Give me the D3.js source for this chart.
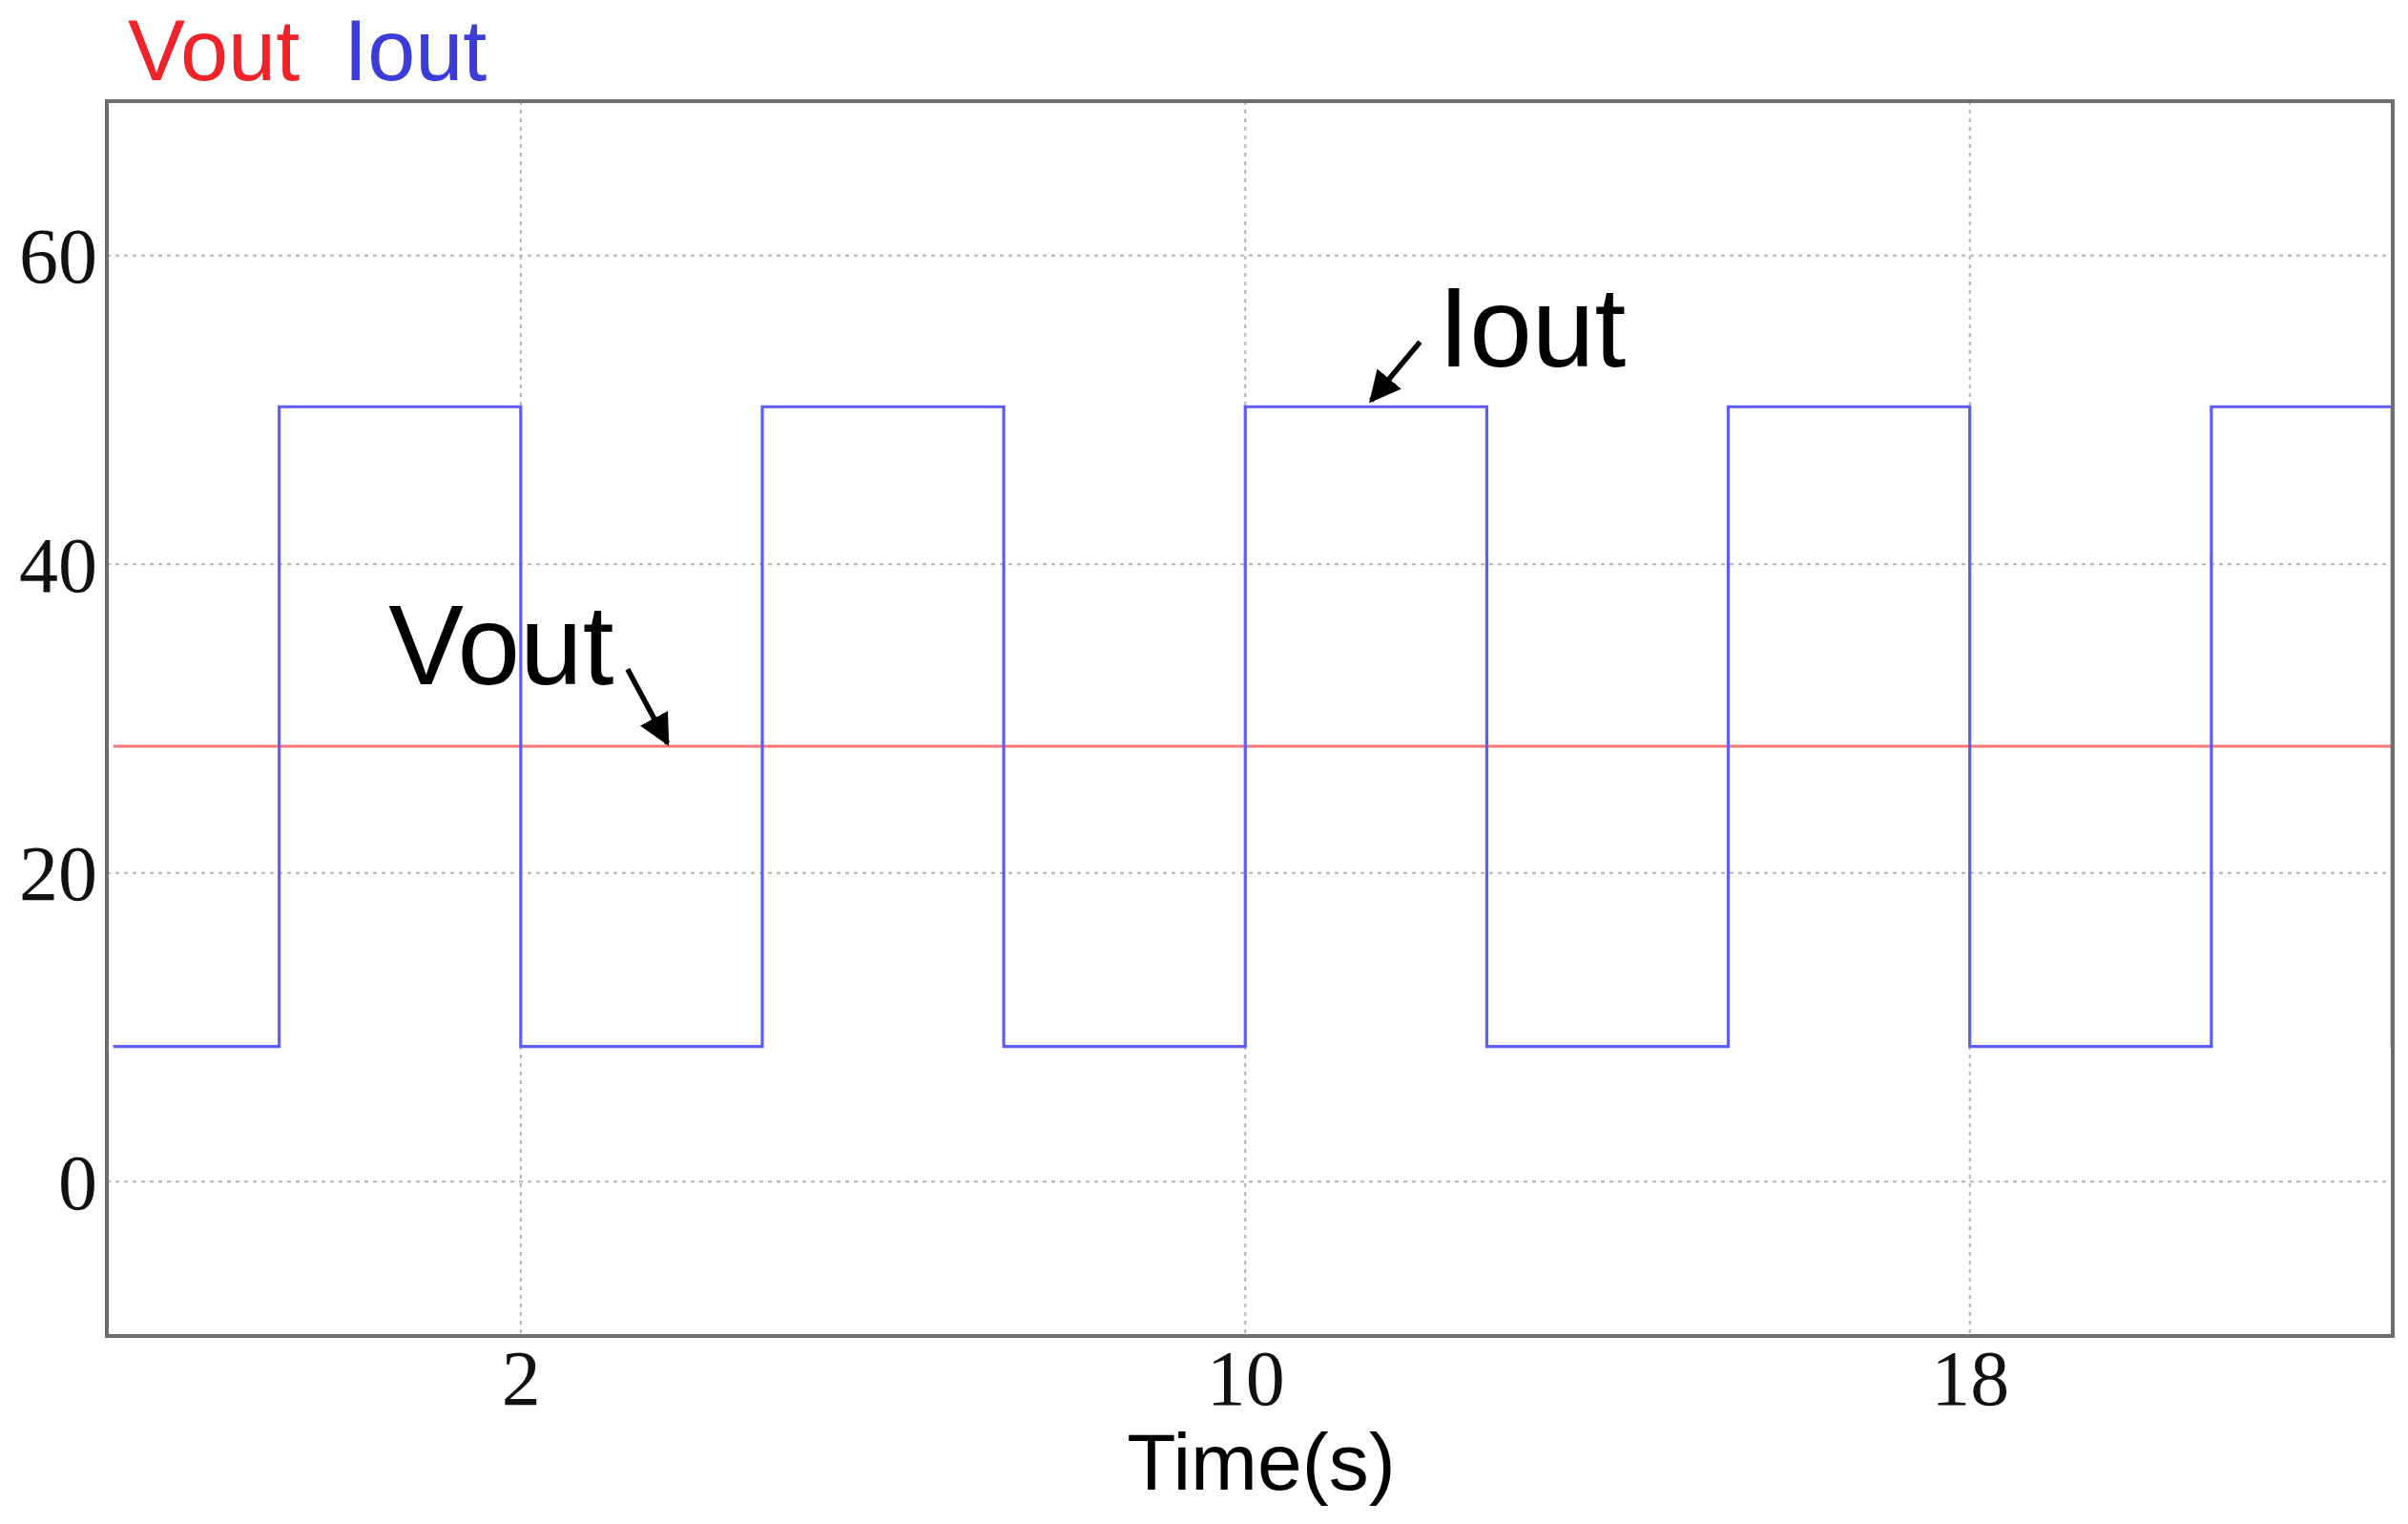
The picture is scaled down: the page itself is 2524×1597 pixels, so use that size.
<!DOCTYPE html>
<html>
<head>
<meta charset="utf-8">
<script src="https://cdn.jsdelivr.net/npm/d3@7"></script>
<style>
  body { margin: 0; background: #fff; }
  svg { display: block; }
  .grid line { stroke: #b4b4b4; stroke-width: 2; stroke-dasharray: 4,5; }
  .tick-label { font-family: 'Liberation Serif', 'Times New Roman', serif; font-size: 82px; fill: #111; }
  .sans { font-family: 'Liberation Sans', Arial, sans-serif; }
</style>
</head>
<body>
<svg id="chart"></svg>
<script>
(function () {

  // x / y ticks
  const xTicks = [2, 10, 18]
  const yTicks = [0, 20, 40, 60]

  // Iout: square wave, value held until the next time (step after)
  const ioutTime = [-2.5, -0.667, 2, 4.667, 7.333, 10, 12.667, 15.333, 18, 20.667, 22.662, 22.67]
  const ioutValue = [8.75, 50.2, 8.75, 50.2, 8.75, 50.2, 8.75, 50.2, 8.75, 50.2, 8.75, 8.75]

  // Vout: flat
  const voutTime = [-2.5, 22.67]
  const voutValue = [28.2, 28.2]

  const seriesNames = ['Vout', 'Iout']
  const seriesColors = ['#ff7676', '#5c5cff']
  const legendColors = ['#f0232b', '#3c3cd8']

  const width = 2524
  const height = 1597
  const margin = {top: 106, right: 16, bottom: 197, left: 112}

  const x = d3.scaleLinear().domain([-2.57, 22.67]).range([margin.left, width - margin.right])
  const y = d3.scaleLinear().domain([-10, 70]).range([height - margin.bottom, margin.top])

  const svg = d3.select('#chart')
    .attr('width', width)
    .attr('height', height)

  const defs = svg.append('defs')
  defs.append('marker')
    .attr('id', 'arrow')
    .attr('viewBox', '0 0 10 10')
    .attr('refX', 9)
    .attr('refY', 5)
    .attr('markerWidth', 6)
    .attr('markerHeight', 6)
    .attr('markerUnits', 'strokeWidth')
    .attr('orient', 'auto')
    .append('path')
    .attr('d', 'M0,0 L10,5 L0,10 z')
    .attr('fill', '#000')

  // grid
  const grid = svg.append('g').attr('class', 'grid')
  grid.selectAll('.hgrid')
    .data(yTicks)
    .enter()
    .append('line')
    .attr('x1', margin.left)
    .attr('x2', width - margin.right)
    .attr('y1', d => y(d))
    .attr('y2', d => y(d))
  grid.selectAll('.vgrid')
    .data(xTicks)
    .enter()
    .append('line')
    .attr('x1', d => x(d))
    .attr('x2', d => x(d))
    .attr('y1', margin.top)
    .attr('y2', height - margin.bottom)

  // axes (labels only, frame drawn below)
  const xAxis = svg.append('g')
    .attr('transform', `translate(0,${height - margin.bottom})`)
    .call(d3.axisBottom(x).tickValues(xTicks).tickSize(0).tickPadding(72).tickFormat(d3.format('d')))
  xAxis.select('.domain').remove()
  xAxis.selectAll('text').attr('class', 'tick-label').attr('fill', null).attr('dy', null)

  const yAxis = svg.append('g')
    .attr('transform', `translate(${margin.left},0)`)
    .call(d3.axisLeft(y).tickValues(yTicks).tickSize(0).tickPadding(10).tickFormat(d3.format('d')))
  yAxis.select('.domain').remove()
  yAxis.selectAll('text').attr('class', 'tick-label').attr('fill', null).attr('dy', '0.34em')

  // series
  const line = d3.line()
    .x(d => x(d[0]))
    .y(d => y(d[1]))

  svg.append('path')
    .datum(voutTime.map((t, i) => [t, voutValue[i]]))
    .attr('d', line)
    .attr('fill', 'none')
    .attr('stroke', seriesColors[0])
    .attr('stroke-width', 3)

  svg.append('path')
    .datum(ioutTime.map((t, i) => [t, ioutValue[i]]))
    .attr('d', line.curve(d3.curveStepAfter))
    .attr('fill', 'none')
    .attr('stroke', seriesColors[1])
    .attr('stroke-width', 3.2)

  // frame
  svg.append('rect')
    .attr('x', margin.left)
    .attr('y', margin.top)
    .attr('width', width - margin.left - margin.right)
    .attr('height', height - margin.top - margin.bottom)
    .attr('fill', 'none')
    .attr('stroke', '#6e6e6e')
    .attr('stroke-width', 4)

  // x title
  svg.append('text')
    .attr('class', 'sans')
    .attr('x', (margin.left + width - margin.right) / 2 + 12)
    .attr('y', 1561)
    .attr('text-anchor', 'middle')
    .attr('font-size', 84)
    .attr('fill', '#000')
    .text('Time(s)')

  // legend on top
  const legend = svg.append('text')
    .attr('class', 'sans')
    .attr('x', 134)
    .attr('y', 84)
    .attr('font-size', 90)
  legend.append('tspan').attr('fill', legendColors[0]).text(seriesNames[0])
  legend.append('tspan').attr('fill', legendColors[1]).attr('dx', 46).text(seriesNames[1])

  // annotations with arrows
  const notes = [
    {name: 'Vout', text: [0.54, 32.2], from: [3.18, 33.2], to: [3.62, 28.4]},
    {name: 'Iout', text: [12.13, 52.8], from: [11.93, 54.4], to: [11.39, 50.6]}
  ]
  const note = svg.selectAll('.note')
    .data(notes)
    .enter()
    .append('g')
    .attr('class', 'note')
  note.append('text')
    .attr('class', 'sans')
    .attr('x', d => x(d.text[0]))
    .attr('y', d => y(d.text[1]))
    .attr('font-size', 118)
    .attr('fill', '#000')
    .text(d => d.name)
  note.append('line')
    .attr('x1', d => x(d.from[0]))
    .attr('y1', d => y(d.from[1]))
    .attr('x2', d => x(d.to[0]))
    .attr('y2', d => y(d.to[1]))
    .attr('stroke', '#000')
    .attr('stroke-width', 5.5)
    .attr('marker-end', 'url(#arrow)')

})()
</script>
</body>
</html>
